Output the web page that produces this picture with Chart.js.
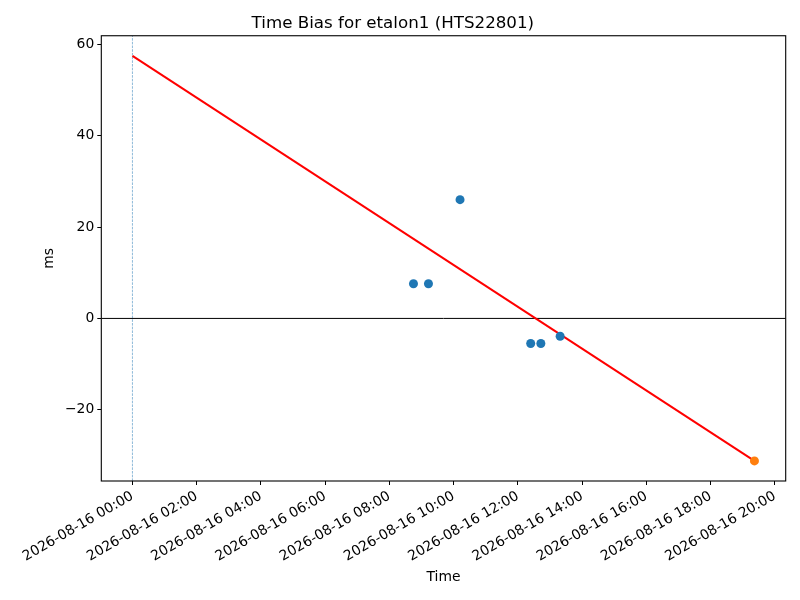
<!DOCTYPE html>
<html>
<head>
<meta charset="utf-8">
<script src="https://cdn.jsdelivr.net/npm/chart.js@4"></script>
<style>
  body { margin: 0; background: #fff; }
  #wrap { width: 800px; height: 600px; }
</style>
</head>
<body>
<div id="wrap"><canvas id="biasChart"></canvas></div>
<script>
// 측정 데이터 (2026-08-16, 시:분)
const day = '2026-08-16';
const pointTimes = ['08:45', '09:13', '10:12', '12:24', '12:43', '13:19'];
const pointValues = [7.6, 7.6, 26.0, -5.5, -5.5, -3.9];
const lastTimes = ['19:22'];
const lastValues = [-31.2];
const fitTimes = ['00:00', '19:22'];
const fitValues = [57.5, -31.2];

// 축 범위 (시간 단위, ms 단위)
const xRange = [-0.97, 20.34];
const yRange = [-35.6, 61.9];

// "HH:MM" -> 시간(소수)
function toHours(t) {
    const p = t.split(':');
    return Number(p[0]) + Number(p[1]) / 60;
}
function pairs(times, values) {
    return times.map((t, i) => ({ x: toHours(t), y: values[i] }));
}
function pad2(n) { return String(n).padStart(2, '0'); }

Chart.defaults.font.family = 'DejaVu Sans';
Chart.defaults.color = '#000';

// 플롯 영역 테두리
const frame = {
    id: 'frame',
    afterDatasetsDraw(chart) {
        const a = chart.chartArea, c = chart.ctx;
        c.save();
        c.strokeStyle = '#000';
        c.lineWidth = 1.1;
        c.strokeRect(a.left, a.top, a.right - a.left, a.bottom - a.top);
        c.restore();
    }
};

const ctx = document.getElementById('biasChart').getContext('2d');
new Chart(ctx, {
    type: 'scatter',
    data: {
        datasets: [
            {
                data: pairs(lastTimes, lastValues),
                backgroundColor: '#ff7f0e',
                borderWidth: 0,
                pointRadius: 4.5
            },
            {
                data: pairs(pointTimes, pointValues),
                backgroundColor: '#1f77b4',
                borderWidth: 0,
                pointRadius: 4.5
            },
            {
                data: pairs(fitTimes, fitValues),
                showLine: true,
                borderColor: 'red',
                borderWidth: 2,
                pointRadius: 0
            },
            {
                data: [{ x: xRange[0], y: 0 }, { x: xRange[1], y: 0 }],
                showLine: true,
                borderColor: '#000',
                borderWidth: 1,
                pointRadius: 0
            },
            {
                data: [{ x: 0, y: yRange[0] }, { x: 0, y: yRange[1] }],
                showLine: true,
                borderColor: 'rgba(31,119,180,0.85)',
                borderWidth: 0.6,
                borderDash: [2.6, 1.1],
                pointRadius: 0
            }
        ]
    },
    options: {
        responsive: true,
        maintainAspectRatio: false,
        animation: false,
        devicePixelRatio: 1,
        layout: { padding: { left: 0, right: 14.3, top: 0, bottom: 0 } },
        plugins: {
            legend: { display: false },
            tooltip: { enabled: false },
            title: {
                display: true,
                text: 'Time Bias for etalon1 (HTS22801)',
                font: { size: 16.7, weight: 'normal' },
                color: '#000',
                padding: { top: 13.5, bottom: 2.2 }
            }
        },
        scales: {
            x: {
                type: 'linear',
                min: xRange[0],
                max: xRange[1],
                afterFit(scale) { scale.height = 119; },
                border: { display: false },
                grid: { display: true, drawOnChartArea: false, drawTicks: true, tickLength: 4, color: '#000' },
                ticks: {
                    stepSize: 2,
                    includeBounds: false,
                    autoSkip: false,
                    minRotation: 30,
                    maxRotation: 30,
                    padding: 3,
                    font: { size: 13.9 },
                    callback: v => day + ' ' + pad2(v) + ':00'
                },
                title: {
                    display: true,
                    text: 'Time',
                    font: { size: 13.9 },
                    padding: { top: 0, bottom: 14.5 }
                }
            },
            y: {
                min: yRange[0],
                max: yRange[1],
                afterFit(scale) { scale.width = 101.3; },
                border: { display: false },
                grid: { display: true, drawOnChartArea: false, drawTicks: true, tickLength: 4, color: '#000' },
                ticks: {
                    stepSize: 20,
                    includeBounds: false,
                    padding: 3,
                    font: { size: 13.9 },
                    callback: v => v < 0 ? '\u2212' + Math.abs(v) : String(v)
                },
                title: {
                    display: true,
                    text: 'ms',
                    font: { size: 13.9 },
                    padding: { top: 41, bottom: 0 }
                }
            }
        }
    },
    plugins: [frame]
});
</script>
</body>
</html>
